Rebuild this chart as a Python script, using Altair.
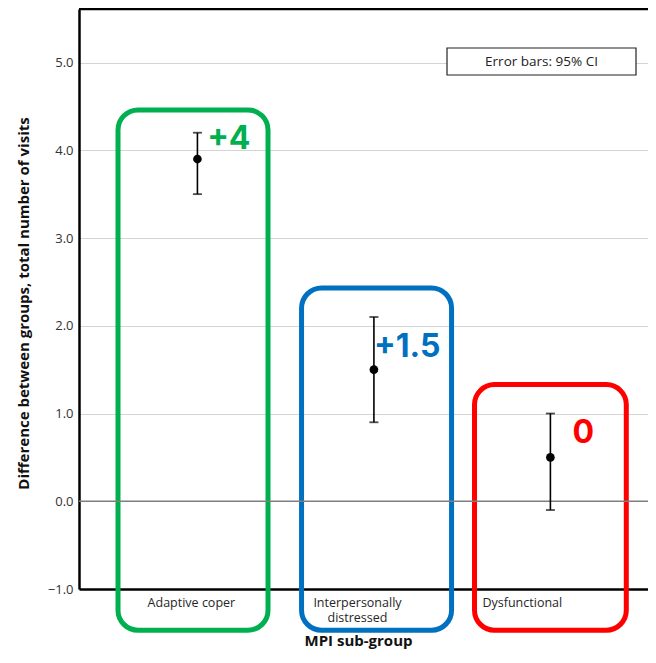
import altair as alt
import pandas as pd

# ---- data ----
groups = ["Adaptive coper", "Interpersonally distressed", "Dysfunctional"]
group_lines = [["Adaptive coper"], ["Interpersonally", "distressed"], ["Dysfunctional"]]
group_pos = [0, 1, 2]
means = [3.9, 1.5, 0.5]
ci_low = [3.5, 0.9, -0.1]
ci_high = [4.2, 2.1, 1.0]
colors = ["#00B050", "#0070C0", "#FF0000"]
callouts = ["+4", "+1.5", "0"]
callout_x = [0.055, 1.0, 2.125]
callout_y = [4.13, 1.76, 0.78]
box_x0 = [-0.45, 0.59, 1.57]
box_x1 = [0.40, 1.44, 2.43]
box_top = [4.46, 2.43, 1.33]
box_bottom = [-1.47, -1.47, -1.47]
label_pos = [-0.037, 0.904, 1.838]
y_ticks = [-1, 0, 1, 2, 3, 4, 5]
x_domain = [-0.671, 2.553]
y_domain = [-1.0, 5.61]

W, H = 569, 580
FONT = "Open Sans"

df = pd.DataFrame({
    "group": groups, "pos": group_pos, "mean": means,
    "lo": ci_low, "hi": ci_high, "color": colors,
    "callout": callouts, "cx": callout_x, "cy": callout_y,
    "bx0": box_x0, "bx1": box_x1, "btop": box_top, "bbot": box_bottom,
})

xs = alt.Scale(domain=x_domain, nice=False, zero=False)
ys = alt.Scale(domain=y_domain, nice=False, zero=False)

m1 = (label_pos[0] + label_pos[1]) / 2
m2 = (label_pos[1] + label_pos[2]) / 2
def lab(lines):
    if len(lines) == 1:
        return "'" + lines[0] + "'"
    return "[" + ", ".join("'" + l + "'" for l in lines) + "]"
label_expr = (f"datum.value < {m1} ? {lab(group_lines[0])} : "
              f"datum.value < {m2} ? {lab(group_lines[1])} : {lab(group_lines[2])}")

x_axis = alt.Axis(
    values=label_pos, labelExpr=label_expr, grid=False, ticks=False,
    domainColor="black", domainWidth=2.5, labelFont=FONT, labelFontSize=12.5,
    labelColor="#262626", labelPadding=7, labelOverlap=False, labelFlush=False,
    labelBound=False, labelLineHeight=15.5,
    title="MPI sub-group", titleFont=FONT, titleFontSize=15, titleFontWeight="bold",
    titleColor="#111111", titleX=279, titleY=56, titleBaseline="alphabetic",
    titleAnchor="middle",
)
y_axis = alt.Axis(
    values=y_ticks, format=".1f", grid=True, gridColor="#d4d4d4", gridWidth=1,
    ticks=False, domainColor="black", domainWidth=2.5, labelFont=FONT,
    labelFontSize=13, labelColor="#333333", labelPadding=6, labelFlush=False,
    labelOverlap=False,
    title="Difference between groups, total number of visits", titleFont=FONT,
    titleFontSize=15, titleFontWeight="bold", titleColor="#111111",
    titleX=-56, titleY=294, titleAngle=-90, titleAlign="center",
    titleBaseline="middle",
)

def X(f):
    return alt.X(f, scale=xs, axis=x_axis)

def Y(f):
    return alt.Y(f, scale=ys, axis=y_axis)

base = alt.Chart(df)

boxes = base.mark_rect(
    fillOpacity=0, strokeWidth=5, cornerRadius=20, clip=False
).encode(
    x=X("bx0:Q"), x2="bx1:Q", y=Y("btop:Q"), y2="bbot:Q",
    stroke=alt.Color("color:N", scale=None),
)

zero_line = alt.Chart(pd.DataFrame({"z": [0.0]})).mark_rule(
    color="#7f7f7f", strokeWidth=1.5
).encode(y=Y("z:Q"))

top_border = alt.Chart(pd.DataFrame({"t": [0]})).mark_rule(
    color="black", strokeWidth=2.5
).encode(x=alt.value(0), x2=alt.value(W), y=alt.value(0))

bars = base.mark_rule(color="black", strokeWidth=1.6).encode(
    x=X("pos:Q"), y=Y("lo:Q"), y2="hi:Q",
)
caps_hi = base.mark_tick(color="black", orient="horizontal", size=9, thickness=1.8).encode(
    x=X("pos:Q"), y=Y("hi:Q"),
)
caps_lo = base.mark_tick(color="black", orient="horizontal", size=9, thickness=1.8).encode(
    x=X("pos:Q"), y=Y("lo:Q"),
)
points = base.mark_circle(color="black", size=75, opacity=1).encode(
    x=X("pos:Q"), y=Y("mean:Q"),
)
texts = base.mark_text(
    font="Inter", fontSize=32, fontWeight="bold", align="left", baseline="middle"
).encode(
    x=X("cx:Q"), y=Y("cy:Q"),
    text="callout:N",
    color=alt.Color("color:N", scale=None),
)

legend_df = pd.DataFrame({"label": ["Error bars: 95% CI"]})
legend_box = alt.Chart(legend_df).mark_rect(
    fill="white", stroke="#222222", strokeWidth=1.2
).encode(x=alt.value(368), x2=alt.value(557), y=alt.value(39), y2=alt.value(66))
legend_text = alt.Chart(legend_df).mark_text(
    font=FONT, fontSize=13.5, color="#222222", align="center", baseline="middle"
).encode(x=alt.value(462.5), y=alt.value(53), text="label:N")

chart = alt.layer(
    boxes, zero_line, top_border, bars, caps_hi, caps_lo, points, texts,
    legend_box, legend_text
).properties(
    width=W, height=H,
    autosize=alt.AutoSizeParams(type="none"),
    padding={"left": 71, "top": 1, "right": 0, "bottom": 60},
).configure_view(stroke=None)

chart.save("out.html", embed_options={"renderer": "svg", "actions": False})
